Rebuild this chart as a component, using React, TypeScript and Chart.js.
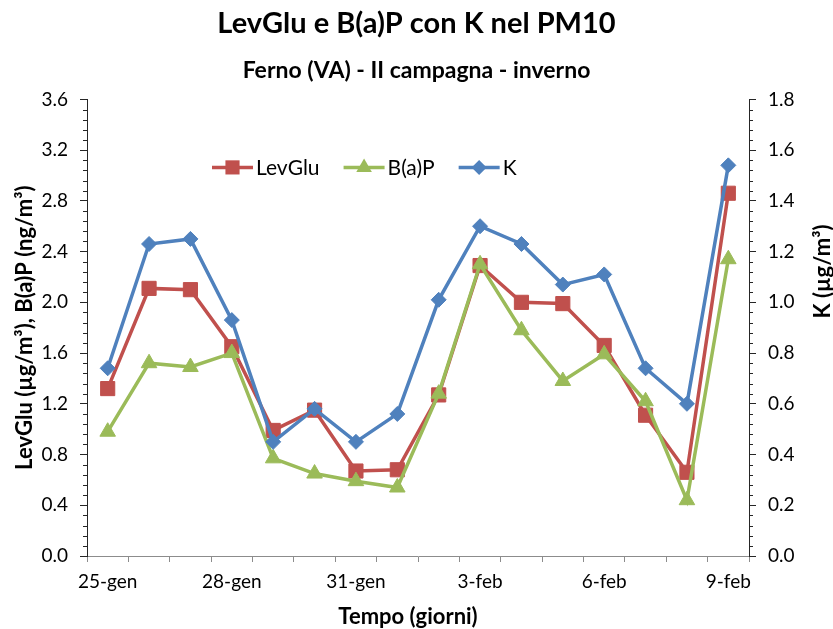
import React, { useEffect, useRef } from 'react';
import { Chart, registerables } from 'chart.js';

Chart.register(...registerables);

const categories = ['25-gen', '26-gen', '27-gen', '28-gen', '29-gen', '30-gen', '31-gen', '1-feb', '2-feb', '3-feb', '4-feb', '5-feb', '6-feb', '7-feb', '8-feb', '9-feb'];
const levGlu = [1.32, 2.11, 2.10, 1.65, 0.99, 1.15, 0.67, 0.68, 1.27, 2.29, 2.00, 1.99, 1.66, 1.11, 0.66, 2.86];
const bap = [0.98, 1.52, 1.49, 1.60, 0.77, 0.65, 0.59, 0.54, 1.28, 2.30, 1.78, 1.38, 1.59, 1.22, 0.44, 2.34];
const kVals = [0.74, 1.23, 1.25, 0.93, 0.45, 0.58, 0.45, 0.56, 1.01, 1.30, 1.23, 1.07, 1.11, 0.74, 0.60, 1.54];
const seriesNames = ['LevGlu', 'B(a)P', 'K'];
const leftAxisRange = [0, 3.6, 0.4];
const rightAxisRange = [0, 1.8, 0.2];

const FONT = 'Lato, "Open Sans", sans-serif';
const RED = '#C0504D';
const GREEN = '#9BBB59';
const BLUE = '#4F81BD';
const YAXIS = '#262626';
const XAXIS = '#8c8c8c';

function marker(ctx: CanvasRenderingContext2D, style: string, r: number, x: number, y: number) {
  ctx.beginPath();
  if (style === 'rect') {
    const h = Math.SQRT1_2 * r;
    ctx.rect(x - h, y - h, 2 * h, 2 * h);
  } else if (style === 'triangle') {
    for (let k = 0; k < 3; k++) {
      const a = (k * 2 * Math.PI) / 3;
      const px = x + Math.sin(a) * r;
      const py = y - Math.cos(a) * r;
      if (k === 0) ctx.moveTo(px, py); else ctx.lineTo(px, py);
    }
    ctx.closePath();
  } else {
    ctx.moveTo(x, y - r);
    ctx.lineTo(x + r, y);
    ctx.lineTo(x, y + r);
    ctx.lineTo(x - r, y);
    ctx.closePath();
  }
  ctx.fill();
}

const extrasPlugin = {
  id: 'extras',
  afterDraw(chart: any) {
    const ctx = chart.ctx;
    const area = chart.chartArea;
    const specs: any[] = [
      { id: 'y', step: leftAxisRange[2] / 5 },
      { id: 'y1', step: rightAxisRange[2] / 5 },
    ];
    ctx.save();
    ctx.strokeStyle = YAXIS;
    ctx.lineWidth = 1;
    specs.forEach((sp) => {
      const s = chart.scales[sp.id];
      const n = Math.round((s.max - s.min) / sp.step);
      for (let i = 0; i <= n; i++) {
        if (i % 5 === 0) continue;
        const y = Math.round(s.getPixelForValue(s.min + i * sp.step)) + 0.5;
        ctx.beginPath();
        if (sp.id === 'y') {
          ctx.moveTo(area.left - 4, y);
          ctx.lineTo(area.left, y);
        } else {
          ctx.moveTo(area.right, y);
          ctx.lineTo(area.right + 4, y);
        }
        ctx.stroke();
      }
    });
    ctx.restore();

    // right axis title, reading bottom to top
    ctx.save();
    ctx.fillStyle = '#000';
    ctx.font = `bold 22px ${FONT}`;
    ctx.textAlign = 'center';
    ctx.textBaseline = 'middle';
    ctx.translate(area.right + 74, area.top + 172);
    ctx.rotate(-Math.PI / 2);
    ctx.fillText('K (µg/m³)', 0, 0);
    ctx.restore();

    // x axis title
    ctx.save();
    ctx.fillStyle = '#000';
    ctx.font = `bold 22px ${FONT}`;
    ctx.textAlign = 'center';
    ctx.textBaseline = 'middle';
    ctx.fillText('Tempo (giorni)', (area.left + area.right) / 2 - 10, area.bottom + 61);
    ctx.restore();

    // legend inside plot
    ctx.save();
    ctx.font = `21px ${FONT}`;
    ctx.textBaseline = 'middle';
    ctx.textAlign = 'left';
    let x = area.left + 125;
    const y = area.top + 68;
    chart.data.datasets.forEach((ds: any, i: number) => {
      ctx.strokeStyle = ds.borderColor;
      ctx.lineWidth = 3.5;
      ctx.beginPath();
      ctx.moveTo(x, y);
      ctx.lineTo(x + 41, y);
      ctx.stroke();
      ctx.fillStyle = ds.backgroundColor;
      marker(ctx, ds.pointStyle, ds.pointRadius, x + 20.5, y);
      ctx.fillStyle = '#000';
      ctx.fillText(seriesNames[i], x + 44, y + 1);
      x += 44 + ctx.measureText(seriesNames[i]).width + 24;
    });
    ctx.restore();
  },
};

export default function App() {
  const ref = useRef<HTMLCanvasElement>(null);
  useEffect(() => {
    if (!ref.current) return;
    const chart = new Chart(ref.current, {
      type: 'line',
      data: {
        labels: categories,
        datasets: [
          {
            label: seriesNames[0],
            data: levGlu,
            yAxisID: 'y',
            borderColor: RED,
            backgroundColor: RED,
            borderWidth: 3.5,
            pointStyle: 'rect',
            pointRadius: 10,
            pointBorderWidth: 1,
            order: 3,
            tension: 0,
          },
          {
            label: seriesNames[1],
            data: bap,
            yAxisID: 'y',
            borderColor: GREEN,
            backgroundColor: GREEN,
            borderWidth: 3.5,
            pointStyle: 'triangle',
            pointRadius: 9,
            pointBorderWidth: 1,
            order: 2,
            tension: 0,
          },
          {
            label: seriesNames[2],
            data: kVals,
            yAxisID: 'y1',
            borderColor: BLUE,
            backgroundColor: BLUE,
            borderWidth: 3.5,
            pointStyle: 'rectRot',
            pointRadius: 7.5,
            pointBorderWidth: 1,
            order: 1,
            tension: 0,
          },
        ],
      },
      options: {
        responsive: false,
        animation: false,
        devicePixelRatio: 1,
        layout: { padding: { top: 0, bottom: 0, left: 0, right: 0 } },
        plugins: {
          legend: { display: false },
          tooltip: { enabled: false },
          title: {
            display: true,
            text: 'LevGlu e B(a)P con K nel PM10',
            color: '#000',
            font: { family: FONT, size: 29, weight: 'bold' },
            padding: { top: 6, bottom: 8 },
          },
          subtitle: {
            display: true,
            text: 'Ferno (VA) - II campagna - inverno',
            color: '#000',
            font: { family: FONT, size: 23, weight: 'bold' },
            padding: { top: 8, bottom: 15 },
          },
        },
        scales: {
          x: {
            type: 'category',
            offset: true,
            grid: { offset: true, drawOnChartArea: false, tickLength: 6, color: XAXIS },
            border: { color: XAXIS, width: 1 },
            ticks: {
              autoSkip: false,
              maxRotation: 0,
              minRotation: 0,
              padding: 8,
              color: '#000',
              font: { family: FONT, size: 19 },
              callback: (_v: any, i: number) => (i % 3 === 0 ? categories[i] : ''),
            },
            afterFit: (s: any) => { s.height = 73; },
          },
          y: {
            position: 'left',
            min: leftAxisRange[0],
            max: leftAxisRange[1],
            grid: { drawOnChartArea: false, tickLength: 7, color: YAXIS },
            border: { color: YAXIS, width: 1 },
            ticks: {
              stepSize: leftAxisRange[2],
              padding: 12,
              color: '#000',
              font: { family: FONT, size: 19 },
              callback: (v: any) => Number(v).toFixed(1),
            },
            title: {
              display: true,
              text: 'LevGlu (µg/m³), B(a)P (ng/m³)',
              color: '#000',
              font: { family: FONT, size: 22, weight: 'bold' },
              padding: { top: 12, bottom: 0 },
            },
            afterFit: (s: any) => { s.width = 87; },
          },
          y1: {
            position: 'right',
            min: rightAxisRange[0],
            max: rightAxisRange[1],
            grid: { drawOnChartArea: false, tickLength: 7, color: YAXIS },
            border: { color: YAXIS, width: 1 },
            ticks: {
              stepSize: rightAxisRange[2],
              padding: 12,
              color: '#000',
              font: { family: FONT, size: 19 },
              callback: (v: any) => Number(v).toFixed(1),
            },
            afterFit: (s: any) => { s.width = 84; },
          },
        },
      },
      plugins: [extrasPlugin],
    } as any);
    return () => chart.destroy();
  }, []);

  return (
    <div style={{ position: 'absolute', left: 0, top: 0, width: 833, height: 629, background: '#fff' }}>
      <canvas ref={ref} width={833} height={629} />
    </div>
  );
}
